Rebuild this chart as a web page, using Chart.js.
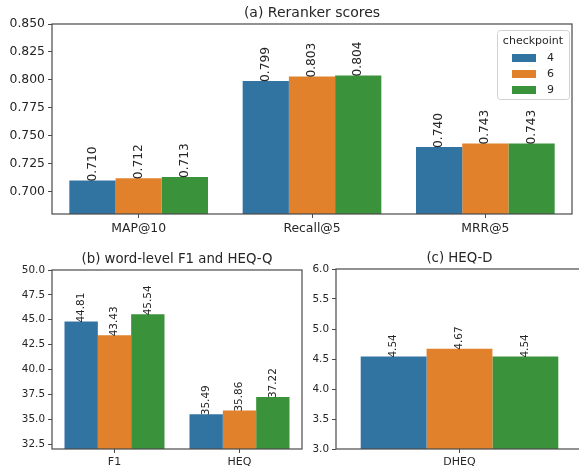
<!DOCTYPE html>
<html>
<head>
<meta charset="utf-8">
<script src="https://cdn.jsdelivr.net/npm/chart.js@4"></script>
<style>
  html, body { margin: 0; padding: 0; background: #fff; width: 579px; height: 471px; overflow: hidden; position: relative; }
  canvas { position: absolute; }
</style>
</head>
<body>
<canvas id="chartA" style="left:0;top:0" width="579" height="240"></canvas>
<canvas id="chartB" style="left:0;top:240px" width="320" height="231"></canvas>
<canvas id="chartC" style="left:310px;top:240px" width="290" height="231"></canvas>
<script>
// data
const checkpoints = ["4", "6", "9"];
const colors = ["#3274a1", "#e1812c", "#3a923a"];

const rerankCats = ["MAP@10", "Recall@5", "MRR@5"];
const rerank4 = [0.710, 0.799, 0.740];
const rerank6 = [0.712, 0.803, 0.743];
const rerank9 = [0.713, 0.804, 0.743];
const rerankTicks = [0.700, 0.725, 0.750, 0.775, 0.800, 0.825, 0.850];

const f1Cats = ["F1", "HEQ"];
const f1_4 = [44.81, 35.49];
const f1_6 = [43.43, 35.86];
const f1_9 = [45.54, 37.22];
const f1Ticks = [32.5, 35.0, 37.5, 40.0, 42.5, 45.0, 47.5, 50.0];

const dheqCats = ["DHEQ"];
const dheq4 = [4.54];
const dheq6 = [4.67];
const dheq9 = [4.54];
const dheqTicks = [3.0, 3.5, 4.0, 4.5, 5.0, 5.5, 6.0];

const FONT = "'DejaVu Sans', sans-serif";
const TXT = "#262626";
const SPINE = "#4a4a4a";

const boxAndLabels = {
  id: "boxAndLabels",
  afterDatasetsDraw(chart, args, opts) {
    const { ctx, chartArea: a } = chart;
    ctx.save();
    // value labels, rotated
    ctx.fillStyle = TXT;
    ctx.font = opts.valueSize + "px " + FONT;
    ctx.textAlign = "left";
    ctx.textBaseline = "middle";
    chart.data.datasets.forEach((ds, i) => {
      chart.getDatasetMeta(i).data.forEach((bar, j) => {
        ctx.save();
        ctx.translate(bar.x, bar.y + 1);
        ctx.rotate(-Math.PI / 2);
        ctx.fillText(ds.data[j].toFixed(opts.digits), 0, 0);
        ctx.restore();
      });
    });
    // frame
    ctx.strokeStyle = SPINE;
    ctx.lineWidth = 1.2;
    ctx.strokeRect(a.left, a.top, a.right - a.left, a.bottom - a.top);
    // title
    ctx.font = opts.titleSize + "px " + FONT;
    ctx.textAlign = "center";
    ctx.textBaseline = "alphabetic";
    ctx.fillText(opts.title, (a.left + a.right) / 2, a.top - 7);
    // legend
    if (opts.legend) {
      const lx = 497, ly = 30, lw = 72, lh = 69;
      ctx.fillStyle = "rgba(255,255,255,0.85)";
      ctx.strokeStyle = "#d0d0d0";
      ctx.lineWidth = 1;
      ctx.beginPath();
      ctx.roundRect(lx + 0.5, ly + 0.5, lw, lh, 3);
      ctx.fill();
      ctx.stroke();
      ctx.fillStyle = TXT;
      ctx.font = "11px " + FONT;
      ctx.textBaseline = "middle";
      ctx.fillText("checkpoint", lx + lw / 2, ly + 11);
      chart.data.datasets.forEach((ds, i) => {
        const y = ly + 28 + i * 16;
        ctx.fillStyle = ds.backgroundColor;
        ctx.fillRect(lx + 15, y - 4, 24, 8);
        ctx.fillStyle = TXT;
        ctx.textAlign = "left";
        ctx.fillText(ds.label, lx + 50, y);
        ctx.textAlign = "center";
      });
    }
    ctx.restore();
  }
};

function makeChart(id, cats, series, ticks, box) {
  const ds = series.map((s, i) => ({
    label: checkpoints[i],
    data: s,
    backgroundColor: colors[i],
    borderWidth: 0,
    categoryPercentage: 0.8,
    barPercentage: 1.0
  }));
  const canvas = document.getElementById(id);
  return new Chart(canvas, {
    type: "bar",
    data: { labels: cats, datasets: ds },
    options: {
      responsive: false,
      animation: false,
      layout: { padding: { left: 0, top: box.top, right: canvas.width - box.right, bottom: 0 } },
      plugins: {
        legend: { display: false },
        tooltip: { enabled: false },
        boxAndLabels: {
          title: box.title, digits: box.digits, legend: box.legend,
          titleSize: box.titleSize, valueSize: box.valueSize
        }
      },
      scales: {
        x: {
          grid: { display: true, drawOnChartArea: false, offset: false, tickLength: 4, color: SPINE },
          border: { display: false },
          ticks: { color: TXT, padding: 3, font: { family: FONT, size: box.xSize } },
          afterFit(s) { s.height = canvas.height - box.bottom; }
        },
        y: {
          min: box.min,
          max: box.max,
          grid: { display: true, drawOnChartArea: false, tickLength: 4, color: SPINE },
          border: { display: false },
          ticks: {
            color: TXT, padding: 3, font: { family: FONT, size: box.ySize },
            callback: v => v.toFixed(box.tickDigits)
          },
          afterBuildTicks(s) { s.ticks = ticks.map(v => ({ value: v })); },
          afterFit(s) { s.width = box.left; }
        }
      }
    },
    plugins: [boxAndLabels]
  });
}

makeChart("chartA", rerankCats, [rerank4, rerank6, rerank9], rerankTicks,
  { left: 52, top: 24, right: 572, bottom: 214, min: 0.68, max: 0.85,
    tickDigits: 3, digits: 3, title: "(a) Reranker scores", legend: true,
    xSize: 12.4, ySize: 12.4, valueSize: 12.2, titleSize: 14 });

makeChart("chartB", f1Cats, [f1_4, f1_6, f1_9], f1Ticks,
  { left: 52, top: 30, right: 302, bottom: 209, min: 32.0, max: 50.0,
    tickDigits: 1, digits: 2, title: "(b) word-level F1 and HEQ-Q", legend: false,
    xSize: 11, ySize: 10.4, valueSize: 10.5, titleSize: 13.3 });

makeChart("chartC", dheqCats, [dheq4, dheq6, dheq9], dheqTicks,
  { left: 26, top: 29, right: 273, bottom: 209, min: 3.0, max: 6.0,
    tickDigits: 1, digits: 2, title: "(c) HEQ-D", legend: false,
    xSize: 11, ySize: 10.4, valueSize: 10.5, titleSize: 13.3 });
</script>
</body>
</html>
